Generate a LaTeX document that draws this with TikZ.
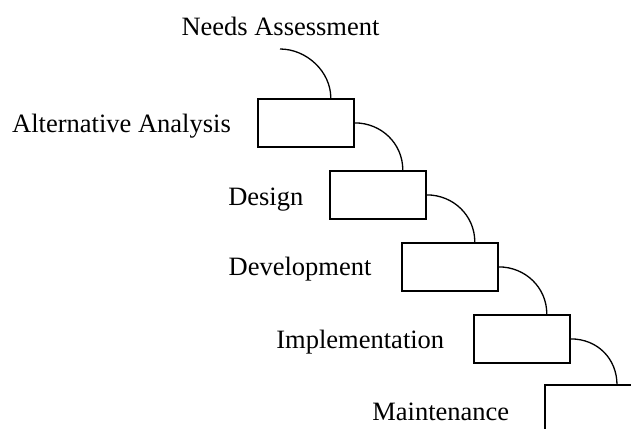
\documentclass[tikz,border=0pt]{standalone}
\usepackage{fontspec}
\setmainfont{Liberation Serif}
\begin{document}
\begin{tikzpicture}[x=1pt,y=-1pt,
  stagebox/.style={draw,line width=1.8pt,minimum width=96pt,minimum height=48pt,inner sep=0pt,anchor=north west},
  lbl/.style={inner sep=0pt,anchor=base,font=\fontsize{26.5}{30}\selectfont},
  flow/.style={line width=1.3pt},
  stepline/.style={line width=1.8pt}]
\useasboundingbox (0,0) rectangle (631,429);
% boxes
\node[stagebox] (b1) at (257,98) {};
\node[stagebox] (b2) at (329,170) {};
\node[stagebox] (b3) at (401,242) {};
\node[stagebox] (b4) at (473,314) {};
\coordinate (m) at (545,385);
\coordinate (mr) at (631,385);
\coordinate (mb) at (545,429);
\coordinate (s0) at (280,49);
% labels
\node[lbl] (t0) at (280.5,35) {Needs Assessment};
\node[lbl] (t1) at (121.5,132.7) {Alternative Analysis};
\node[lbl] (t2) at (265.8,205) {Design};
\node[lbl] (t3) at (300,275.5) {Development};
\node[lbl] (t4) at (360.3,348.3) {Implementation};
\node[lbl] (t5) at (440.8,420) {Maintenance};
% connectors
\draw[flow] (s0) .. controls +(26.5,0) and +(0,-26.5) .. ([xshift=-24pt]b1.north east);
\draw[flow] (b1.east) .. controls +(26.5,0) and +(0,-26.5) .. ([xshift=-24pt]b2.north east);
\draw[flow] (b2.east) .. controls +(26.5,0) and +(0,-26.5) .. ([xshift=-24pt]b3.north east);
\draw[flow] (b3.east) .. controls +(26.5,0) and +(0,-26.5) .. ([xshift=-24pt]b4.north east);
\draw[flow] (b4.east) .. controls +(26.5,0) and +(0,-26.5) .. ([xshift=72pt]m);
\draw[stepline] (mr) -- (m) -- (mb);
\end{tikzpicture}
\end{document}
